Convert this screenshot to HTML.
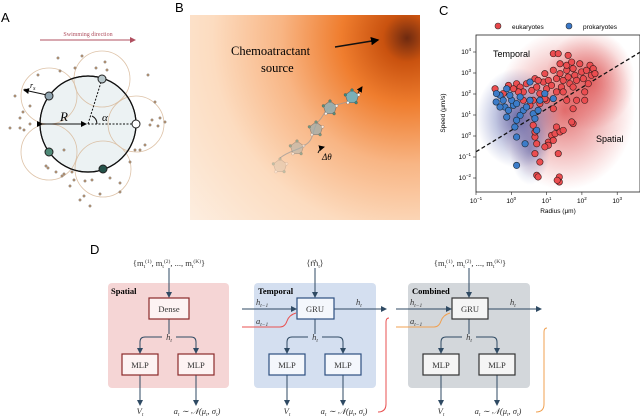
<!DOCTYPE html>
<html><head><meta charset="utf-8"><style>
html,body{margin:0;padding:0;background:#fff}
svg{display:block}
text{font-family:"Liberation Serif",serif}
.sans{font-family:"Liberation Sans",sans-serif}
</style></head><body>
<svg id="fig" width="640" height="417" viewBox="0 0 640 417" xmlns="http://www.w3.org/2000/svg">
<defs>
<radialGradient id="bgB" cx="407" cy="38" r="300" gradientUnits="userSpaceOnUse">
<stop offset="0" stop-color="#6e2a10"/><stop offset="0.08" stop-color="#c9520f"/><stop offset="0.22" stop-color="#ef7d2e"/><stop offset="0.42" stop-color="#f8b584"/><stop offset="0.65" stop-color="#fcdcc0"/><stop offset="1" stop-color="#fdf1e6"/>
</radialGradient>
<radialGradient id="redblob" cx="0.5" cy="0.5" r="0.5"><stop offset="0" stop-color="#d84040" stop-opacity="0.75"/><stop offset="1" stop-color="#e05050" stop-opacity="0"/></radialGradient>
<radialGradient id="blueblob" cx="0.5" cy="0.5" r="0.5"><stop offset="0" stop-color="#3a4a9a" stop-opacity="0.75"/><stop offset="1" stop-color="#5060b0" stop-opacity="0"/></radialGradient>
<clipPath id="plotclip"><rect x="476" y="35" width="164" height="157"/></clipPath>
<marker id="ah" markerWidth="6" markerHeight="6" refX="5" refY="3" orient="auto"><path d="M0,0 L6,3 L0,6z" fill="#2f4a63"/></marker>
<marker id="ahk" markerWidth="6" markerHeight="6" refX="5" refY="3" orient="auto"><path d="M0,0 L6,3 L0,6z" fill="#000"/></marker>
<marker id="ahr" markerWidth="6" markerHeight="6" refX="5" refY="3" orient="auto"><path d="M0,0 L6,3 L0,6z" fill="#b05060"/></marker>
</defs>

<!-- Panel A -->
<g>
<text x="1" y="22" class="sans" font-size="13">A</text>
<text x="88" y="36" font-size="6" fill="#b05060" text-anchor="middle">Swimming direction</text>
<line x1="40" y1="40" x2="135" y2="40" stroke="#b05060" stroke-width="1" marker-end="url(#ahr)"/>
<circle cx="88" cy="124" r="48" fill="#ecf2f3" stroke="#111" stroke-width="1.2"/>
<g fill="none" stroke="#d8b898" stroke-width="0.8" opacity="0.85">
<circle cx="102" cy="79" r="28"/><circle cx="49" cy="96" r="28"/><circle cx="136" cy="124" r="28"/><circle cx="49" cy="152" r="28"/><circle cx="103" cy="169" r="28"/>
</g>
<circle cx="88" cy="124" r="48" fill="none" stroke="#111" stroke-width="1.2"/>
<g id="adots" fill="#c9a07a" stroke="#555" stroke-width="0.4"></g>
<line x1="88" y1="124" x2="102" y2="79" stroke="#111" stroke-dasharray="2,1.5"/>
<line x1="88" y1="124" x2="136" y2="124" stroke="#111" stroke-dasharray="2,1.5"/>
<line x1="42" y1="124" x2="86" y2="124" stroke="#111" marker-end="url(#ahk)" marker-start="url(#ahk)"/>
<line x1="47" y1="95" x2="24" y2="90" stroke="#111" marker-end="url(#ahk)"/>
<path d="M92,116 A9,9 0 0 1 97,124" fill="none" stroke="#111"/>
<text x="60" y="121" font-size="13" font-style="italic">R</text>
<text x="102" y="121" font-size="11" font-style="italic">α</text>
<text x="30" y="88" font-size="8" font-style="italic">r<tspan font-size="6" dy="2">s</tspan></text>
<circle cx="102" cy="79" r="4" fill="#b8c8cc" stroke="#222"/>
<circle cx="49" cy="96" r="4" fill="#8fa4b0" stroke="#222"/>
<circle cx="136" cy="124" r="4" fill="#fff" stroke="#222"/>
<circle cx="49" cy="152" r="4" fill="#4f8a78" stroke="#222"/>
<circle cx="103" cy="169" r="4" fill="#24524a" stroke="#222"/>
</g>

<!-- Panel B -->
<g>
<text x="175" y="12" class="sans" font-size="13">B</text>
<rect x="190" y="15" width="230" height="205" fill="url(#bgB)"/>
<text x="231" y="55" font-size="12.5">Chemoatractant</text>
<text x="261" y="72" font-size="12.5">source</text>
<line x1="335" y1="47" x2="378" y2="40" stroke="#111" stroke-width="1.4" marker-end="url(#ahk)"/>
<path d="M280,158 C290,150 300,150 305,145 C315,140 312,128 318,122 C325,115 325,108 332,106 L355,100" fill="none" stroke="#999" stroke-width="1" opacity="0.7"/>
<g id="cells"></g>
<path d="M318,153 q2,-5 6,-6" fill="none" stroke="#111" marker-end="url(#ahk)"/>
<text x="322" y="160" font-size="9" font-style="italic">Δθ</text>
<line x1="358" y1="93" x2="362" y2="87" stroke="#111" marker-end="url(#ahk)"/>
</g>

<!-- Panel C -->
<g>
<text x="439" y="15" class="sans" font-size="13">C</text>
<g>
<circle cx="498" cy="26" r="3" fill="#e8474a" stroke="#333" stroke-width="0.6"/>
<text x="512" y="29" class="sans" font-size="6.5">eukaryotes</text>
<circle cx="569" cy="26" r="3" fill="#3a78c8" stroke="#333" stroke-width="0.6"/>
<text x="583" y="29" class="sans" font-size="6.5">prokaryotes</text>
</g>
<g clip-path="url(#plotclip)">
<ellipse cx="565" cy="110" rx="70" ry="80" fill="url(#redblob)"/>
<ellipse cx="590" cy="80" rx="45" ry="50" fill="url(#redblob)"/>
<ellipse cx="518" cy="118" rx="42" ry="50" fill="url(#blueblob)"/>
<ellipse cx="530" cy="150" rx="20" ry="35" fill="url(#blueblob)" opacity="0.6"/>
</g>
<g id="cplot"></g>
<rect x="476" y="35" width="164" height="157" fill="none" stroke="#222" stroke-width="0.8"/>
<text x="493" y="57" class="sans" font-size="9">Temporal</text>
<text x="596" y="142" class="sans" font-size="9">Spatial</text>
<text x="558" y="213" class="sans" font-size="6.5" text-anchor="middle">Radius (μm)</text>
<text x="445" y="113" class="sans" font-size="6.5" text-anchor="middle" transform="rotate(-90 445 113)">Speed (μm/s)</text>
</g>

<!-- Panel D -->
<g font-size="8.5">
<text x="90" y="254" class="sans" font-size="13">D</text>
<rect x="108" y="283" width="121" height="105" rx="4" fill="#f5d5d5"/>
<rect x="254" y="283" width="122" height="105" rx="4" fill="#d4dff0"/>
<rect x="408" y="283" width="122" height="105" rx="4" fill="#d3d7db"/>
<text x="111" y="294" font-weight="bold" font-size="8.5">Spatial</text>
<text x="258" y="294" font-weight="bold" font-size="8.5">Temporal</text>
<text x="412" y="294" font-weight="bold" font-size="8.5">Combined</text>
<g stroke="#2f4a63" stroke-width="1" fill="none">
<line x1="169" y1="268" x2="169" y2="297" marker-end="url(#ah)"/>
<line x1="169" y1="319" x2="169" y2="334"/>
<path d="M162,337 H145 q-5,0 -5,5 V353" marker-end="url(#ah)"/>
<path d="M176,337 H191 q5,0 5,5 V353" marker-end="url(#ah)"/>
<line x1="140" y1="375" x2="140" y2="405" marker-end="url(#ah)"/>
<line x1="196" y1="375" x2="196" y2="405" marker-end="url(#ah)"/>
<line x1="315" y1="268" x2="315" y2="297" marker-end="url(#ah)"/>
<line x1="242" y1="309" x2="296" y2="309" marker-end="url(#ah)"/>
<line x1="334" y1="309" x2="386" y2="309" marker-end="url(#ah)"/>
<line x1="315" y1="319" x2="315" y2="334"/>
<path d="M308,337 H292 q-5,0 -5,5 V353" marker-end="url(#ah)"/>
<path d="M322,337 H338 q5,0 5,5 V353" marker-end="url(#ah)"/>
<line x1="287" y1="375" x2="287" y2="405" marker-end="url(#ah)"/>
<line x1="343" y1="375" x2="343" y2="405" marker-end="url(#ah)"/>
<line x1="469" y1="268" x2="469" y2="297" marker-end="url(#ah)"/>
<line x1="396" y1="309" x2="451" y2="309" marker-end="url(#ah)"/>
<line x1="488" y1="309" x2="541" y2="309" marker-end="url(#ah)"/>
<line x1="469" y1="319" x2="469" y2="334"/>
<path d="M462,337 H446 q-5,0 -5,5 V353" marker-end="url(#ah)"/>
<path d="M476,337 H492 q5,0 5,5 V353" marker-end="url(#ah)"/>
<line x1="441" y1="375" x2="441" y2="405" marker-end="url(#ah)"/>
<line x1="497" y1="375" x2="497" y2="405" marker-end="url(#ah)"/>
</g>
<path d="M242,327 H280 q5,0 7,-6 q2,-6 9,-8" fill="none" stroke="#e85050" stroke-width="1"/>
<path d="M396,327 H434 q5,0 7,-6 q2,-6 9,-8" fill="none" stroke="#f0a050" stroke-width="1"/>
<path d="M389,318 q-3,0 -3,4 V404 q0,8 -8,8" fill="none" stroke="#e85050" stroke-width="1"/>
<path d="M547,328 q-3,0 -3,4 V404 q0,8 -8,8" fill="none" stroke="#f0a050" stroke-width="1"/>
<g stroke-width="1.2">
<rect x="149" y="298" width="40" height="21" fill="#fdf3f3" stroke="#8b2a2a"/>
<rect x="122" y="354" width="36" height="21" fill="#fdf3f3" stroke="#8b2a2a"/>
<rect x="178" y="354" width="36" height="21" fill="#fdf3f3" stroke="#8b2a2a"/>
<rect x="297" y="298" width="37" height="21" fill="#f4f7fc" stroke="#2d4f80"/>
<rect x="269" y="354" width="36" height="21" fill="#f4f7fc" stroke="#2d4f80"/>
<rect x="325" y="354" width="36" height="21" fill="#f4f7fc" stroke="#2d4f80"/>
<rect x="452" y="298" width="36" height="21" fill="#f5f5f5" stroke="#333"/>
<rect x="423" y="354" width="36" height="21" fill="#f5f5f5" stroke="#333"/>
<rect x="479" y="354" width="36" height="21" fill="#f5f5f5" stroke="#333"/>
</g>
<g text-anchor="middle" fill="#333">
<text x="169" y="312">Dense</text><text x="140" y="368">MLP</text><text x="196" y="368">MLP</text>
<text x="315" y="312">GRU</text><text x="287" y="368">MLP</text><text x="343" y="368">MLP</text>
<text x="470" y="312">GRU</text><text x="441" y="368">MLP</text><text x="497" y="368">MLP</text>
<text x="169" y="266">{m<tspan font-size="5.5" dy="2">t</tspan><tspan font-size="5.5" dy="-5">(1)</tspan><tspan dy="3">, m</tspan><tspan font-size="5.5" dy="2">t</tspan><tspan font-size="5.5" dy="-5">(2)</tspan><tspan dy="3">, ..., m</tspan><tspan font-size="5.5" dy="2">t</tspan><tspan font-size="5.5" dy="-5">(K)</tspan><tspan dy="3">}</tspan></text>
<text x="470" y="266">{m<tspan font-size="5.5" dy="2">t</tspan><tspan font-size="5.5" dy="-5">(1)</tspan><tspan dy="3">, m</tspan><tspan font-size="5.5" dy="2">t</tspan><tspan font-size="5.5" dy="-5">(2)</tspan><tspan dy="3">, ..., m</tspan><tspan font-size="5.5" dy="2">t</tspan><tspan font-size="5.5" dy="-5">(K)</tspan><tspan dy="3">}</tspan></text>
<text x="315" y="266">⟨m⃗<tspan font-size="5.5" dy="2">t</tspan><tspan dy="-2">⟩</tspan></text>
<text x="169" y="340" font-style="italic">h<tspan font-size="5.5" dy="2">t</tspan></text>
<text x="315" y="340" font-style="italic">h<tspan font-size="5.5" dy="2">t</tspan></text>
<text x="469" y="340" font-style="italic">h<tspan font-size="5.5" dy="2">t</tspan></text>
<text x="140" y="414" font-style="italic">V<tspan font-size="5.5" dy="2">t</tspan></text>
<text x="287" y="414" font-style="italic">V<tspan font-size="5.5" dy="2">t</tspan></text>
<text x="441" y="414" font-style="italic">V<tspan font-size="5.5" dy="2">t</tspan></text>
<text x="197" y="414" font-style="italic">a<tspan font-size="5.5" dy="2">t</tspan><tspan dy="-2"> ∼ 𝒩(μ</tspan><tspan font-size="5.5" dy="2">t</tspan><tspan dy="-2">, σ</tspan><tspan font-size="5.5" dy="2">t</tspan><tspan dy="-2">)</tspan></text>
<text x="344" y="414" font-style="italic">a<tspan font-size="5.5" dy="2">t</tspan><tspan dy="-2"> ∼ 𝒩(μ</tspan><tspan font-size="5.5" dy="2">t</tspan><tspan dy="-2">, σ</tspan><tspan font-size="5.5" dy="2">t</tspan><tspan dy="-2">)</tspan></text>
<text x="498" y="414" font-style="italic">a<tspan font-size="5.5" dy="2">t</tspan><tspan dy="-2"> ∼ 𝒩(μ</tspan><tspan font-size="5.5" dy="2">t</tspan><tspan dy="-2">, σ</tspan><tspan font-size="5.5" dy="2">t</tspan><tspan dy="-2">)</tspan></text>
</g>
<g font-style="italic" fill="#333">
<text x="256" y="305">h<tspan font-size="5.5" dy="2">t−1</tspan></text>
<text x="356" y="305">h<tspan font-size="5.5" dy="2">t</tspan></text>
<text x="256" y="324">a<tspan font-size="5.5" dy="2">t−1</tspan></text>
<text x="410" y="305">h<tspan font-size="5.5" dy="2">t−1</tspan></text>
<text x="510" y="305">h<tspan font-size="5.5" dy="2">t</tspan></text>
<text x="410" y="324">a<tspan font-size="5.5" dy="2">t−1</tspan></text>
</g>
</g>
</svg>
<script>
// Panel C data (log10 values)
const xTicks = [-1, 0, 1, 2, 3];
const yTicks = [-2, -1, 0, 1, 2, 3, 4];
const blueLogR = [-0.43,-0.32,-0.23,-0.13,-0.18,-0.08,0.06,0.01,0.15,0.25,0.34,0.43,0.53,0.53,0.62,0.67,0.25,0.15,0.10,0.15,0.39,0.15,0.72,0.81,-0.32,-0.42,-0.04,1.19,0.95,0.76,-0.13];
const blueLogS = [1.62,1.94,1.70,2.25,1.38,1.22,1.46,1.70,1.54,1.86,1.22,1.38,2.57,1.70,1.06,0.83,0.98,0.75,0.43,-0.05,-0.37,-1.40,0.27,1.70,1.38,2.02,1.94,1.78,2.02,1.22,0.90];
const redLogR = [-0.46,-0.08,0.15,0.25,0.34,0.43,0.58,0.67,0.72,0.81,0.91,1.0,1.05,1.14,1.19,1.28,1.38,1.42,1.47,1.57,1.61,1.66,1.75,1.8,1.85,1.94,1.99,2.04,2.13,2.18,2.23,2.27,2.32,2.37,1.57,1.71,1.38,1.19,1.33,1.61,1.28,1.0,0.81,1.19,0.62,0.53,1.75,1.85,2.08,1.75,1.71,1.28,1.14,1.24,1.38,1.47,1.05,1.19,1.05,0.95,0.67,0.72,0.67,0.81,0.72,0.76,1.33,1.36,1.36,1.30,0.62,0.67,0.2,0.06,-0.23,0.34,0.76,0.95,1.47,1.57,1.75,2.08,0.95];
const redLogS = [2.25,2.41,2.49,2.33,2.1,2.49,2.17,2.73,2.33,2.02,2.57,2.25,2.65,2.41,3.13,2.73,2.97,2.33,2.65,3.13,2.81,2.49,3.21,2.89,2.65,3.44,3.05,2.73,3.13,2.49,3.37,2.89,3.21,2.97,3.37,3.52,3.44,3.92,3.92,3.84,2.1,1.7,1.54,1.3,1.7,1.46,1.3,1.7,1.7,0.59,0.67,0.43,0.03,0.11,0.19,0.27,-0.29,-0.21,-0.44,-0.52,-0.05,-0.37,-0.84,-1.24,-1.87,-1.95,-0.84,-1.95,-2.19,-2.11,0.51,0.19,2.1,2.25,2.02,1.7,2.65,2.97,2.1,1.7,2.33,2.1,1.78];
const boundaryIntercept = 0.27;
const boundarySlope = 1.02;

const X0=476, X1=640, Y0=35, Y1=192;
const xs = v => 476 + (v + 1) * 35.3;
const ys = v => 52 + (4 - v) * 21;
const NS='http://www.w3.org/2000/svg';
function mk(tag, attrs, parent){const e=document.createElementNS(NS,tag);for(const k in attrs)e.setAttribute(k,attrs[k]);parent.appendChild(e);return e;}
const cp=document.getElementById('cplot');
const gClip=mk('g',{'clip-path':'url(#plotclip)'},cp);
const bl=mk('line',{x1:xs(-1),y1:ys(boundaryIntercept-boundarySlope),x2:xs(3.64),y2:ys(boundaryIntercept+boundarySlope*3.64),stroke:'#111','stroke-width':1.3,'stroke-dasharray':'4,2.5'},gClip);


redLogR.forEach((r,i)=>{
  const c=mk('circle',{cx:xs(r),cy:ys(redLogS[i]),r:3.2,fill:'#eb4d50',stroke:'#3a1a1a','stroke-width':0.6},gClip);
  
  
});
blueLogR.forEach((r,i)=>{
  const c=mk('circle',{cx:xs(r),cy:ys(blueLogS[i]),r:3.2,fill:'#3c7cc9',stroke:'#1a2a3a','stroke-width':0.6},gClip);
  
  
});
xTicks.forEach(v=>{
  mk('line',{x1:xs(v),x2:xs(v),y1:Y1,y2:Y1+3,stroke:'#222','stroke-width':0.6},cp);
  const t=mk('text',{x:xs(v),y:Y1+11,'font-size':6.5,'text-anchor':'middle',class:'sans'},cp);
  
  
  t.innerHTML='10<tspan font-size="4.5" dy="-3">'+(v<0?'−'+(-v):v)+'</tspan>';
});
yTicks.forEach(v=>{
  mk('line',{x1:X0-3,x2:X0,y1:ys(v),y2:ys(v),stroke:'#222','stroke-width':0.6},cp);
  const t=mk('text',{x:X0-5,y:ys(v)+2,'font-size':6.5,'text-anchor':'end',class:'sans'},cp);
  
  
  t.innerHTML='10<tspan font-size="4.5" dy="-3">'+(v<0?'−'+(-v):v)+'</tspan>';
});
// Panel A dots
const ad=document.getElementById('adots');
[[58,58],[82,56],[75,68],[105,62],[96,68],[60,71],[107,70],[25,90],[15,96],[20,118],[10,128],[24,130],[30,124],[23,112],[148,75],[155,102],[160,118],[150,125],[158,126],[165,122],[145,145],[140,150],[152,120],[56,172],[62,176],[72,172],[74,180],[48,168],[85,181],[92,180],[110,178],[120,183],[100,194],[90,206],[84,196],[120,192],[64,174],[46,166],[64,150],[80,200],[70,186],[30,106],[38,75],[20,128],[130,162],[135,150]].forEach(p=>mk('circle',{cx:p[0],cy:p[1],r:1.2},ad));
// Panel B cells
const cg=document.getElementById('cells');
[[280,166,0.3,'#c8c0b0'],[297,148,0.5,'#a8b4b0'],[316,129,0.7,'#9aaeb0'],[330,108,0.85,'#8fb0b6'],[352,97,1,'#7ab0b8']].forEach(c=>{
  const g=mk('g',{opacity:c[2]},cg);
  let pts=[];for(let k=0;k<5;k++){const a=-Math.PI/2+k*2*Math.PI/5;pts.push([c[0]+7*Math.cos(a),c[1]+7*Math.sin(a)]);}
  mk('polygon',{points:pts.map(p=>p.join(',')).join(' '),fill:c[3],stroke:'#666','stroke-width':0.6},g);
  pts.forEach((p,k)=>mk('circle',{cx:p[0],cy:p[1],r:1.4,fill:k%2?'#fff':'#3a8a80',stroke:'#444','stroke-width':0.3},g));
});
</script>
</body></html>
